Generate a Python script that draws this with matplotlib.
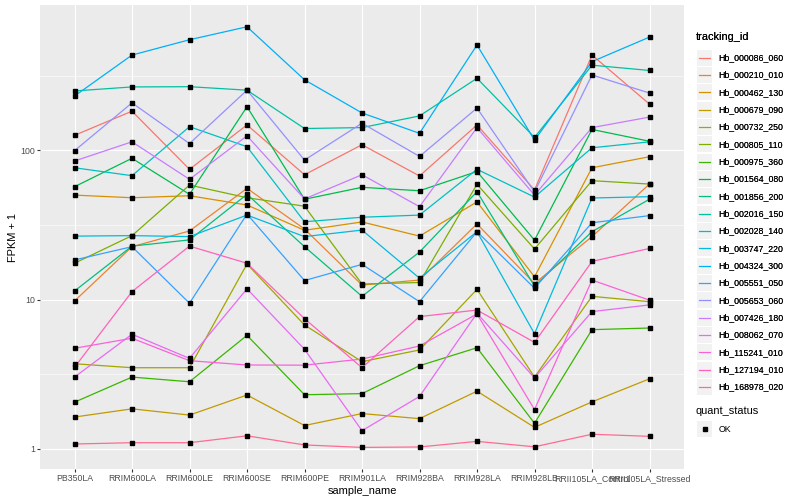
import matplotlib
matplotlib.use('Agg')
import matplotlib.pyplot as plt
from matplotlib.lines import Line2D
from matplotlib.patches import Rectangle
from matplotlib.legend_handler import HandlerBase
from matplotlib.ticker import FixedLocator, NullFormatter

plt.rcParams['font.family'] = ['Liberation Sans', 'DejaVu Sans']

# 样本 (x 轴)
samples = ['PB350LA', 'RRIM600LA', 'RRIM600LE', 'RRIM600SE', 'RRIM600PE', 'RRIM901LA',
           'RRIM928BA', 'RRIM928LA', 'RRIM928LB', 'RRII105LA_Control', 'RRII105LA_Stressed']

tracking_ids = ['Hb_000086_060', 'Hb_000210_010', 'Hb_000462_130', 'Hb_000679_090',
                'Hb_000732_250', 'Hb_000805_110', 'Hb_000975_360', 'Hb_001564_080',
                'Hb_001856_200', 'Hb_002016_150', 'Hb_002028_140', 'Hb_003747_220',
                'Hb_004324_300', 'Hb_005551_050', 'Hb_005653_060', 'Hb_007426_180',
                'Hb_008062_070', 'Hb_115241_010', 'Hb_127194_010', 'Hb_168978_020']

# FPKM + 1, 每个基因一行
fpkm = [
    [126, 183, 74.6, 148, 68.6, 109, 67.3, 148, 54.2, 435, 204],
    [9.77, 22.6, 28.8, 55.6, 29.7, 12.5, 13.5, 32.1, 12.8, 26.4, 59.4],
    [50.1, 48.1, 49.6, 43.0, 29.1, 33.1, 26.6, 45.1, 14.2, 76.4, 90.6],
    [1.63, 1.85, 1.68, 2.29, 1.43, 1.72, 1.59, 2.43, 1.39, 2.06, 2.94],
    [3.71, 3.49, 3.49, 17.3, 6.75, 3.83, 4.59, 11.7, 3.02, 10.5, 9.67],
    [17.5, 26.8, 58.5, 48.1, 42.2, 12.7, 13.0, 59.2, 21.8, 62.6, 59.4],
    [2.05, 3.02, 2.81, 5.75, 2.30, 2.34, 3.60, 4.75, 1.48, 6.28, 6.44],
    [57.0, 88.4, 50.7, 196, 47.0, 56.5, 53.6, 72.1, 25.0, 138, 115],
    [11.4, 22.8, 25.1, 50.7, 22.6, 10.5, 20.8, 52.8, 12.3, 28.5, 47.0],
    [250, 266, 267, 253, 140, 142, 170, 304, 122, 372, 343],
    [76.4, 67.6, 144, 105.7, 33.2, 35.6, 36.8, 74.6, 48.6, 104, 114],
    [26.6, 26.8, 26.4, 36.8, 26.4, 29.2, 13.9, 28.5, 5.9, 47.9, 48.9],
    [231, 435, 551, 673, 297, 178, 130, 508, 117, 393, 574],
    [18.4, 22.6, 9.44, 37.4, 13.4, 17.2, 9.67, 28.5, 11.9, 32.7, 36.5],
    [99.4, 208, 111, 253, 86, 152, 91, 192, 52.6, 320, 242],
    [84.8, 114, 63.9, 125, 47.2, 68.6, 41.9, 142, 50.1, 142, 167],
    [3.02, 5.85, 4.03, 11.8, 4.64, 1.32, 2.24, 8.1, 2.98, 8.3, 9.2],
    [4.71, 5.50, 3.89, 3.64, 3.63, 3.99, 4.88, 8.0, 1.83, 13.5, 9.9],
    [3.51, 11.3, 22.8, 17.5, 7.44, 3.49, 7.68, 8.5, 5.16, 18.0, 22.0],
    [1.075, 1.097, 1.097, 1.22, 1.06, 1.02, 1.027, 1.12, 1.03, 1.25, 1.21],
]

# ggplot 默认色
colors = ['#F8766D', '#EA8331', '#D89000', '#C09B00', '#A3A500', '#7CAE00', '#39B600',
          '#00BB4E', '#00BF7D', '#00C1A3', '#00BFC4', '#00BAE0', '#00B0F6', '#35A2FF',
          '#9590FF', '#C77CFF', '#E76BF3', '#FA62DB', '#FF62BC', '#FF6C91']

fig = plt.figure(figsize=(8, 5), dpi=100)
ax = fig.add_axes([40 / 800, 1 - 469 / 500, 644 / 800, 464 / 500])
ax.set_facecolor('#EBEBEB')
for s in ax.spines.values():
    s.set_visible(False)

xs = list(range(len(samples)))
for vals, c in zip(fpkm, colors):
    ax.plot(xs, vals, color=c, lw=0.9, zorder=3)
for vals in fpkm:
    ax.plot(xs, vals, ls='none', marker='s', ms=2.8, color='black', zorder=4)

ax.set_yscale('log')
ax.set_ylim(0.731, 942)
ax.set_xlim(-0.6, 10.6)
ax.yaxis.set_major_locator(FixedLocator([1, 10, 100]))
ax.set_yticklabels(['1', '10', '100'])
ax.yaxis.set_minor_locator(FixedLocator([10 ** 0.5, 10 ** 1.5, 10 ** 2.5]))
ax.yaxis.set_minor_formatter(NullFormatter())
ax.set_xticks(xs)
ax.set_xticklabels(samples)
ax.grid(True, which='major', color='white', lw=0.8, zorder=1)
ax.grid(True, which='minor', axis='y', color='white', lw=0.4, zorder=1)
ax.set_axisbelow(True)
ax.tick_params(which='major', length=2, width=0.8, color='#333333',
               labelsize=6.3, labelcolor='#4D4D4D', pad=1.5)
ax.tick_params(which='minor', length=0)
ax.set_xlabel('sample_name', fontsize=7.9, labelpad=2)
ax.set_ylabel('FPKM + 1', fontsize=7.9, labelpad=1.5)


class KeyHandler(HandlerBase):
    def create_artists(self, legend, orig_handle, xdescent, ydescent, width, height, fontsize, trans):
        arts = [Rectangle((-xdescent + 0.5, -ydescent + 0.5), width - 1, height - 1,
                          facecolor='#F2F2F2', edgecolor='none', transform=trans)]
        cy = -ydescent + height / 2
        if orig_handle.get_marker() not in (None, 'None', 'none', ''):
            arts.append(Line2D([-xdescent + width / 2], [cy], marker='s', ms=2.6, color='black',
                               ls='none', transform=trans))
        else:
            arts.append(Line2D([-xdescent + 2, -xdescent + width - 2], [cy, cy],
                               color=orig_handle.get_color(), lw=0.9, transform=trans))
        return arts


handles = [Line2D([], [], color=c) for c in colors]
leg1 = fig.legend(handles, tracking_ids, loc='upper left', bbox_to_anchor=(696 / 800, 1 - 32 / 500),
                  frameon=False, fontsize=6.3, title='tracking_id', title_fontsize=7.9,
                  handlelength=1.95, handleheight=2.67, labelspacing=0.0, handletextpad=0.6,
                  borderpad=0, borderaxespad=0, alignment='left',
                  handler_map={Line2D: KeyHandler()})
leg1._legend_box.sep = 5
fig.add_artist(leg1)

ok = [Line2D([], [], marker='s', ls='none', color='black')]
fig.legend(ok, ['OK'], loc='upper left', bbox_to_anchor=(696 / 800, 1 - 406 / 500),
           frameon=False, fontsize=6.3, title='quant_status', title_fontsize=7.9,
           handlelength=1.95, handleheight=2.67, handletextpad=0.6,
           borderpad=0, borderaxespad=0, alignment='left',
           handler_map={Line2D: KeyHandler()})

plt.savefig('out.png', dpi=100)
plt.close()
